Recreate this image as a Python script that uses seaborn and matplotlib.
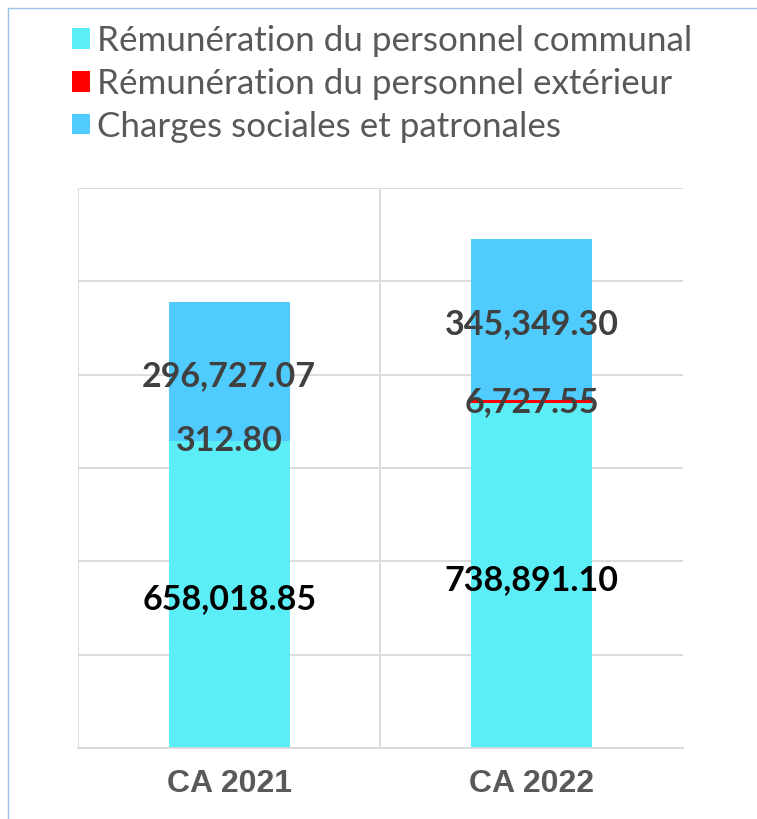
import numpy as np
import pandas as pd
import matplotlib
matplotlib.use('Agg')
import matplotlib.pyplot as plt
import seaborn as sns
from matplotlib.patches import Patch
from matplotlib.lines import Line2D

# data
categories = ['CA 2021', 'CA 2022']
communal = [658018.85, 738891.10]
exterieur = [312.80, 6727.55]
charges = [296727.07, 345349.30]
series_names = ['Rémunération du personnel communal',
                'Rémunération du personnel extérieur',
                'Charges sociales et patronales']
colors = ['#5CEEF6', '#FF0000', '#4FCBFD']

df = pd.DataFrame({'cat': categories, 'communal': communal,
                   'exterieur': exterieur, 'charges': charges})

sns.set_theme(style='white')
plt.rcParams['font.family'] = ['Lato', 'DejaVu Sans']

fig = plt.figure(figsize=(7.57, 8.19), dpi=100)
ax = fig.add_axes([78/757, 1-748/819, (683-78)/757, (748-188)/819])

bottoms = np.zeros(len(categories))
cols = ['communal', 'exterieur', 'charges']
for col, c in zip(cols, colors):
    sns.barplot(data=df, x='cat', y=col, color=c, width=0.4, bottom=bottoms,
                ax=ax, saturation=1, linewidth=0)
    bottoms = bottoms + df[col].values

ax.set_ylim(0, 1200000)
ax.set_xlim(-0.5, 1.5)
ax.set_yticks(np.arange(0, 1200001, 200000))
ax.yaxis.grid(True, color='#D9D9D9', linewidth=1.3)
for xv in [-0.5, 0.5]:
    ax.axvline(xv, color='#D9D9D9', linewidth=1.3, zorder=0)
ax.set_axisbelow(True)
ax.tick_params(axis='y', left=False, labelleft=False)
ax.tick_params(axis='x', bottom=False, pad=9)
for sp in ['top', 'right', 'left']:
    ax.spines[sp].set_visible(False)
ax.spines['bottom'].set_color('#D9D9D9')
ax.spines['bottom'].set_linewidth(1.3)
ax.set_xlabel('')
ax.set_ylabel('')
ax.set_xticks(range(len(categories)))
ax.set_xticklabels(categories, fontsize=23, fontweight='bold', color='#595959',
                   family='Liberation Sans')

# data labels
shift = 9000
for i in range(len(categories)):
    ax.text(i, communal[i]/2 - shift, f'{communal[i]:,.2f}', ha='center', va='center',
            fontsize=24.5, fontweight='bold', color='#000000')
    b1 = communal[i]
    ax.text(i, b1 + exterieur[i]/2, f'{exterieur[i]:,.2f}', ha='center', va='center',
            fontsize=24.5, fontweight='bold', color='#404040')
    b2 = communal[i] + exterieur[i]
    ax.text(i, b2 + charges[i]/2 - shift, f'{charges[i]:,.2f}', ha='center', va='center',
            fontsize=24.5, fontweight='bold', color='#404040')

handles = [Patch(facecolor=c, edgecolor='none') for c in colors]
leg = fig.legend(handles, series_names, loc='upper left',
                 bbox_to_anchor=(58/757, 1-11/819), frameon=False,
                 fontsize=25.2, handlelength=0.52, handleheight=0.52,
                 handletextpad=0.2, labelspacing=0.31, borderaxespad=0)
for t in leg.get_texts():
    t.set_color('#595959')

# thin frame of the original picture
fig.add_artist(Line2D([8/757, 1], [1-8/819, 1-8/819], transform=fig.transFigure,
                      color='#9DC3E6', linewidth=1))
fig.add_artist(Line2D([8/757, 8/757], [0, 1-8/819], transform=fig.transFigure,
                      color='#9DC3E6', linewidth=1))

fig.savefig('out.png', dpi=100)
